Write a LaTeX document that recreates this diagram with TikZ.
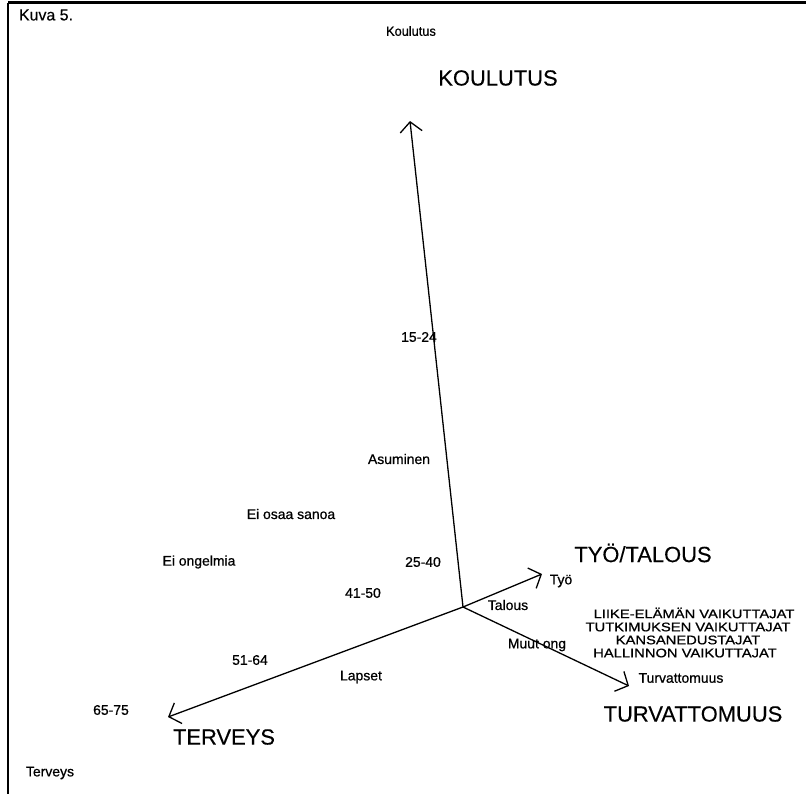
\documentclass[tikz,border=0pt]{standalone}
\usepackage{fontspec}
\setmainfont{Liberation Sans}
\newfontfamily\heavy{Liberation Sans}[FakeBold=0.7]
\newfontfamily\medium{Liberation Sans}[FakeBold=0.3]
\usetikzlibrary{arrows.meta}
\begin{document}
\begin{tikzpicture}[x=1bp,y=-1bp,
  axis/.style={line width=1.3bp,-{Straight Barb[length=10bp,width=22bp,line width=1.3bp]}},
  small/.style={inner sep=0pt,font=\heavy\fontsize{14}{16}\selectfont},
  big/.style={inner sep=0pt,font=\medium\fontsize{22}{26}\selectfont},
  group/.style={inner sep=0pt,font=\heavy\fontsize{14.8}{16}\selectfont}]
\useasboundingbox (0,0) rectangle (806,794);
\coordinate (tl) at (8,3);
\coordinate (tr) at (806,3);
\coordinate (bl) at (8,794);
\draw[line width=3bp] (tl) -- (tr);
\draw[line width=1.5bp] (tl) -- (bl);
% axes
\coordinate (O) at (463,607);
\coordinate (K) at (410,121);
\coordinate (T) at (168,717);
\coordinate (W) at (542,574);
\coordinate (U) at (629,686);
\draw[axis] (O) -- (K);
\draw[axis] (O) -- (T);
\draw[axis] (O) -- (W);
\draw[axis] (O) -- (U);
% labels
\node[small,font=\medium\fontsize{16}{18}\selectfont] (kuva) at (46,15) {Kuva 5.};
\node[small,font=\heavy\fontsize{13.5}{15}\selectfont] (koul) at (411,31) {\scalebox{0.95}[1]{Koulutus}};
\node[big] (KOUL) at (498,78) {KOULUTUS};
\node[small] (a1524) at (419,337) {15-24};
\node[small] (asum) at (399,459) {Asuminen};
\node[small] (eos) at (291,514) {Ei osaa sanoa};
\node[small] (eio) at (199,562) {Ei ongelmia};
\node[small] (a2540) at (423,562) {25-40};
\node[small] (a4150) at (363,593) {41-50};
\node[big] (TYO) at (643,553) {TYÖ/TALOUS};
\node[small] (tyo) at (561,581) {Työ};
\node[small] (tal) at (508,605) {Talous};
\node[small] (muut) at (537,645) {Muut ong};
\node[group] (g1) at (694,613) {\scalebox{1}[0.85]{LIIKE-ELÄMÄN VAIKUTTAJAT}};
\node[group] (g2) at (688,627) {\scalebox{1}[0.85]{TUTKIMUKSEN VAIKUTTAJAT}};
\node[group] (g3) at (688,640) {\scalebox{1}[0.85]{KANSANEDUSTAJAT}};
\node[group] (g4) at (685,653) {\scalebox{1}[0.85]{HALLINNON VAIKUTTAJAT}};
\node[small] (turv) at (681,678) {Turvattomuus};
\node[big] (TURV) at (693,714) {TURVATTOMUUS};
\node[small] (a5164) at (250,660) {51-64};
\node[small] (laps) at (361,677) {Lapset};
\node[small] (a6575) at (111,710) {65-75};
\node[big] (TERV) at (224,737) {TERVEYS};
\node[small] (terv) at (50,773) {Terveys};
\end{tikzpicture}
\end{document}
